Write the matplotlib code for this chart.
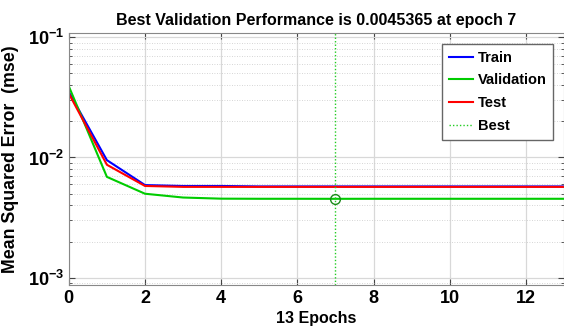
import numpy as np
import matplotlib.pyplot as plt
from matplotlib.ticker import LogLocator, NullFormatter

plt.rcParams['font.family'] = ['Liberation Sans', 'DejaVu Sans']

epochs = [0, 1, 2, 3, 4, 5, 6, 7, 8, 9, 10, 11, 12, 13]
train = [0.035, 0.0095, 0.0059, 0.0058, 0.0058, 0.00575, 0.00575, 0.00575,
         0.00575, 0.00575, 0.00575, 0.00575, 0.00575, 0.00575]
validation = [0.039, 0.0069, 0.0050, 0.00465, 0.00455, 0.00454, 0.00454, 0.0045365,
              0.00454, 0.00454, 0.00454, 0.00454, 0.00454, 0.00454]
test = [0.034, 0.0087, 0.0058, 0.0057, 0.0057, 0.0057, 0.0057, 0.0057,
        0.0057, 0.0057, 0.0057, 0.0057, 0.0057, 0.0057]
best_epoch = 7
best_perf = 0.0045365

fig = plt.figure(figsize=(5.64, 3.34), dpi=100)
ax = fig.add_axes([0.122, 0.147, 0.878, 0.754])

ax.semilogy(epochs, train, color='#0000ff', lw=1.5, label='Train')
ax.semilogy(epochs, validation, color='#00cc00', lw=1.5, label='Validation')
ax.semilogy(epochs, test, color='#ff0000', lw=1.5, label='Test')
ax.axvline(best_epoch, color='#22cc22', lw=1.0, ls=(0, (1, 1.5)), label='Best')
ax.plot(best_epoch, best_perf, 'o', mfc='none', mec='#1a8a1a', ms=7, mew=1)

ax.set_xlim(0, 13)
ax.set_ylim(10 ** -3.058, 10 ** -0.967)
ax.set_xticks(range(0, 13, 2))
ax.yaxis.set_minor_locator(LogLocator(base=10, subs=np.arange(2, 10)))
ax.yaxis.set_minor_formatter(NullFormatter())

ax.grid(True, which='major', color='#d8d8d8', lw=0.9)
ax.grid(True, which='minor', axis='y', color='#c8c8c8', lw=0.6, ls=(0, (1, 2)))
ax.set_axisbelow(True)

ax.tick_params(which='both', direction='in', top=True, right=True, color='#444444')
ax.tick_params(which='major', labelsize=13, length=4)
ax.tick_params(which='minor', length=2)
for lbl in ax.get_xticklabels() + ax.get_yticklabels():
    lbl.set_fontweight('bold')
for sp in ax.spines.values():
    sp.set_color('#888888')

ax.set_title('Best Validation Performance is 0.0045365 at epoch 7',
             fontsize=11.5, fontweight='bold', pad=6)
ax.set_xlabel('13 Epochs', fontsize=11.5, fontweight='bold', labelpad=3)
ax.set_ylabel('Mean Squared Error  (mse)', fontsize=12.8, fontweight='bold', labelpad=6)

leg = ax.legend(loc='upper right', prop={'weight': 'bold', 'size': 10.5},
                fancybox=False, edgecolor='#666666', framealpha=1,
                handlelength=1.7, handletextpad=0.3, labelspacing=0.6,
                borderpad=0.45, bbox_to_anchor=(0.993, 0.985))

fig.savefig('out.png', dpi=100)
